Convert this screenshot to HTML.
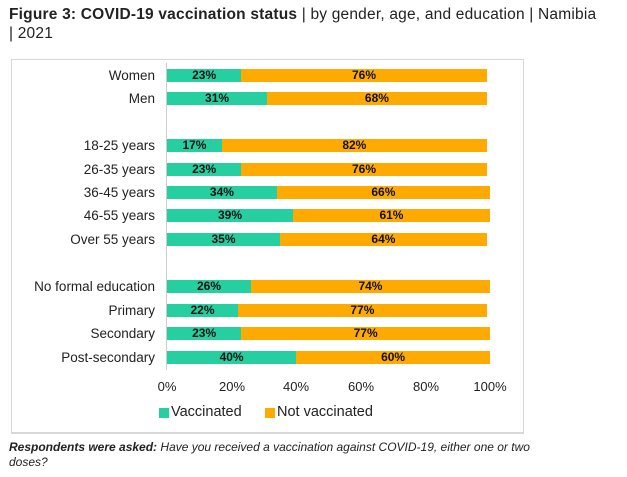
<!DOCTYPE html>
<html><head><meta charset="utf-8"><style>
body{margin:0;width:627px;height:477px;background:#fff;font-family:"Liberation Sans",sans-serif;position:relative;overflow:hidden;color:#222}
.t{position:absolute;left:9px;top:5px;font-size:15.5px;line-height:19px;width:615px;letter-spacing:0.2px}
.box{position:absolute;left:11px;top:59px;width:513px;height:375px;border:1px solid #d8d8d8;border-bottom:2px solid #d8d8d8;box-sizing:border-box}
.lab{position:absolute;font-size:13.5px;white-space:nowrap}
.bar{position:absolute;height:13px;font-size:12px;font-weight:bold;text-align:center;line-height:13px;color:#111}
.g{background:#26cfa0}.o{background:#ffaa00}
.tick{position:absolute;top:379px;font-size:13px;width:50px;text-align:center}
.f{position:absolute;left:9px;top:440px;font-size:12px;font-style:italic;line-height:15px;width:610px}
</style></head><body>
<div class="t"><b>Figure 3: COVID-19 vaccination status</b> | by gender, age, and education | Namibia<br>| 2021</div>
<div class="box"></div>
<div style="position:absolute;left:166px;top:63px;width:1px;height:307px;background:#ccc"></div>
<div id="c"></div>
<div class="tick" style="left:142px">0%</div>
<div class="tick" style="left:207px">20%</div>
<div class="tick" style="left:271px">40%</div>
<div class="tick" style="left:336px">60%</div>
<div class="tick" style="left:401px">80%</div>
<div class="tick" style="left:465px">100%</div>
<div style="position:absolute;left:159px;top:408px;width:10px;height:10px;background:#26cfa0"></div>
<div style="position:absolute;left:171px;top:404px;font-size:14.5px">Vaccinated</div>
<div style="position:absolute;left:265px;top:408px;width:10px;height:10px;background:#ffaa00"></div>
<div style="position:absolute;left:277px;top:404px;font-size:14.5px">Not vaccinated</div>
<div class="f"><b>Respondents were asked:</b> Have you received a vaccination against COVID-19, either one or two<br>doses?</div>
<script>
var d=[["Women",76,23,76],["Men",99,31,68],["18-25 years",146,17,82],["26-35 years",170,23,76],["36-45 years",193,34,66],["46-55 years",216,39,61],["Over 55 years",240,35,64],["No formal education",287,26,74],["Primary",311,22,77],["Secondary",334,23,77],["Post-secondary",358,40,60]];
var h="",s=3.23,x0=167;
d.forEach(function(r){var y=r[1]-7;
h+='<div class="lab" style="top:'+(r[1]-8)+'px;right:'+(627-155)+'px">'+r[0]+'</div>';
h+='<div class="bar g" style="left:'+x0+'px;top:'+y+'px;width:'+(r[2]*s)+'px">'+r[2]+'%</div>';
h+='<div class="bar o" style="left:'+(x0+r[2]*s)+'px;top:'+y+'px;width:'+(r[3]*s)+'px">'+r[3]+'%</div>';});
document.getElementById("c").innerHTML=h;
</script>
</body></html>
